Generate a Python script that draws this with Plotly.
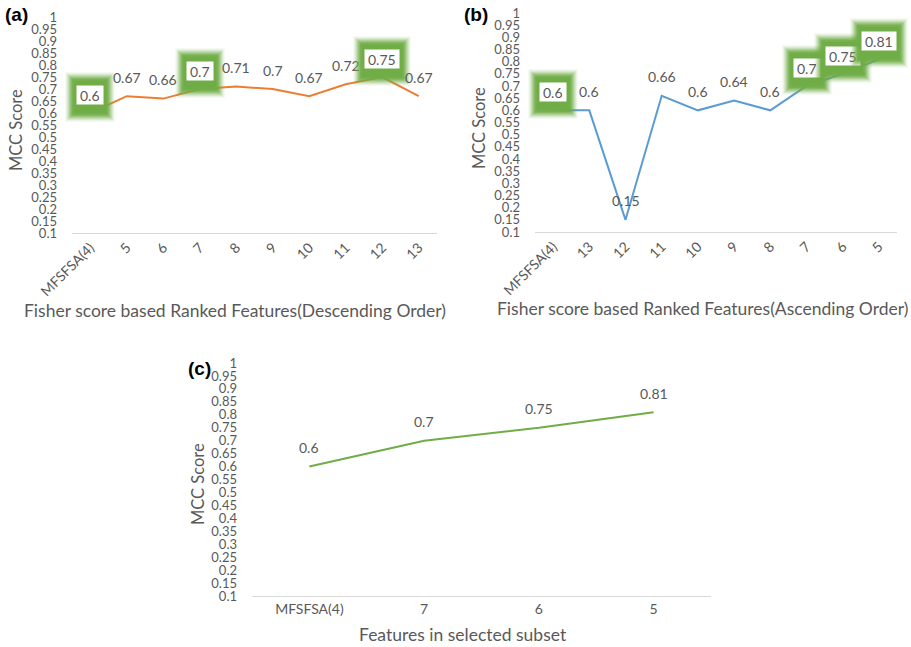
import plotly.graph_objects as go

# ---- data ----
cats_a = ["MFSFSA(4)", "5", "6", "7", "8", "9", "10", "11", "12", "13"]
mcc_a = [0.6, 0.67, 0.66, 0.7, 0.71, 0.7, 0.67, 0.72, 0.75, 0.67]
boxed_a = ["MFSFSA(4)", "7", "12"]

cats_b = ["MFSFSA(4)", "13", "12", "11", "10", "9", "8", "7", "6", "5"]
mcc_b = [0.6, 0.6, 0.15, 0.66, 0.6, 0.64, 0.6, 0.7, 0.75, 0.81]
boxed_b = ["MFSFSA(4)", "7", "6", "5"]

cats_c = ["MFSFSA(4)", "7", "6", "5"]
mcc_c = [0.6, 0.7, 0.75, 0.81]

y_ticks = [0.1, 0.15, 0.2, 0.25, 0.3, 0.35, 0.4, 0.45, 0.5, 0.55,
           0.6, 0.65, 0.7, 0.75, 0.8, 0.85, 0.9, 0.95, 1]
y_ticktext = ["0.1", "0.15", "0.2", "0.25", "0.3", "0.35", "0.4", "0.45", "0.5", "0.55",
              "0.6", "0.65", "0.7", "0.75", "0.8", "0.85", "0.9", "0.95", "1"]

W, H = 911, 647
FONT = "Lato"
GRAY = "#595959"
AXIS_LINE = "#d9d9d9"
GLOW = "112,173,71"
LABEL_SIZE = 14

fig = go.Figure()

panels = [
    dict(cats=cats_a, vals=mcc_a, boxed=boxed_a, color="#ED7D31", xa="x", ya="y"),
    dict(cats=cats_b, vals=mcc_b, boxed=boxed_b, color="#5B9BD5", xa="x2", ya="y2"),
    dict(cats=cats_c, vals=mcc_c, boxed=[], color="#70AD47", xa="x3", ya="y3"),
]

for p in panels:
    fig.add_trace(go.Scatter(
        x=p["cats"], y=p["vals"], mode="lines",
        line=dict(color=p["color"], width=2),
        xaxis=p["xa"], yaxis=p["ya"], showlegend=False, hoverinfo="skip",
    ))

annotations = []


def px_x(v):
    return v / W


def px_y(v):
    return 1 - v / H


# value labels, some drawn in a white box with a soft green glow behind it
for p in panels:
    for i, (c, v) in enumerate(zip(p["cats"], p["vals"])):
        txt = f"{v:g}"
        if c in p["boxed"]:
            for pad, alpha in [(14, 0.15), (12, 0.3), (10, 0.5), (8, 0.8), (6, 1.0)]:
                annotations.append(dict(
                    x=i, y=v, xref=p["xa"], yref=p["ya"], text=txt,
                    showarrow=False, yshift=16, height=20,
                    font=dict(family=FONT, size=LABEL_SIZE, color="rgba(0,0,0,0)"),
                    bgcolor=f"rgba({GLOW},{alpha})", borderpad=pad,
                ))
            annotations.append(dict(
                x=i, y=v, xref=p["xa"], yref=p["ya"], text=txt,
                showarrow=False, yshift=18, height=12,
                font=dict(family=FONT, size=LABEL_SIZE, color=GRAY),
                bgcolor="white", borderpad=3,
            ))
        else:
            annotations.append(dict(
                x=i, y=v, xref=p["xa"], yref=p["ya"], text=txt,
                showarrow=False, yshift=19,
                font=dict(family=FONT, size=LABEL_SIZE, color=GRAY),
            ))

# panel letters
for letter, x, y in [("(a)", 3, 15), ("(b)", 462, 15), ("(c)", 186, 368)]:
    annotations.append(dict(
        x=px_x(x), y=px_y(y), xref="paper", yref="paper", text=f"<b>{letter}</b>",
        showarrow=False, xanchor="left", yanchor="middle",
        font=dict(family="Liberation Sans", size=19, color="black"),
    ))

# axis titles
for text, x, y in [("MCC Score", 16, 130), ("MCC Score", 479, 128), ("MCC Score", 198, 484)]:
    annotations.append(dict(
        x=px_x(x), y=px_y(y), xref="paper", yref="paper", text=text,
        showarrow=False, textangle=-90, xanchor="center", yanchor="middle",
        font=dict(family=FONT, size=16.5, color=GRAY),
    ))
for text, x, y in [("Fisher score based Ranked Features(Descending Order)", 235, 310),
                   ("Fisher score based Ranked Features(Ascending Order)", 702, 308),
                   ("Features in selected subset", 463, 634)]:
    annotations.append(dict(
        x=px_x(x), y=px_y(y), xref="paper", yref="paper", text=text,
        showarrow=False, xanchor="center", yanchor="middle",
        font=dict(family=FONT, size=17.5, color=GRAY),
    ))

xaxis_common = dict(
    type="category", showline=True, linecolor=AXIS_LINE, linewidth=1,
    showgrid=False, zeroline=False, ticks="", fixedrange=True, automargin=False,
    tickfont=dict(family=FONT, size=14, color=GRAY),
)
yaxis_common = dict(
    range=[0.1, 1.0], tickmode="array", tickvals=y_ticks, ticktext=y_ticktext,
    showline=False, showgrid=False, zeroline=False, ticks="", automargin=False,
    tickfont=dict(family=FONT, size=13, color=GRAY), ticklabelstandoff=14,
)

fig.update_layout(
    width=W, height=H, margin=dict(l=0, r=0, t=0, b=0, autoexpand=False),
    paper_bgcolor="white", plot_bgcolor="white",
    xaxis=dict(domain=[px_x(72), px_x(437)], anchor="y", tickangle=-45,
               range=[-0.5, len(cats_a) - 0.5], **xaxis_common),
    yaxis=dict(domain=[px_y(233), px_y(17)], anchor="x", **yaxis_common),
    xaxis2=dict(domain=[px_x(535), px_x(897)], anchor="y2", tickangle=-45,
                range=[-0.5, len(cats_b) - 0.5], **xaxis_common),
    yaxis2=dict(domain=[px_y(232), px_y(13)], anchor="x2", **yaxis_common),
    xaxis3=dict(domain=[px_x(252), px_x(711)], anchor="y3", tickangle=0,
                range=[-0.5, len(cats_c) - 0.5], **xaxis_common),
    yaxis3=dict(domain=[px_y(596), px_y(363)], anchor="x3", **yaxis_common),
    annotations=annotations,
)

fig.write_html("out.html")
